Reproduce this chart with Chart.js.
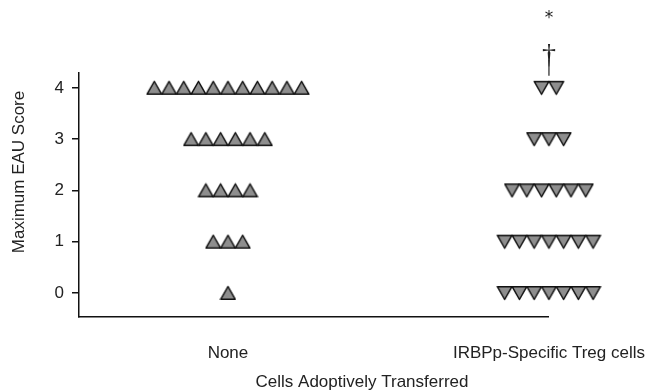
<!DOCTYPE html>
<html>
<head>
<meta charset="utf-8">
<script src="https://cdn.jsdelivr.net/npm/chart.js@4.4.1/dist/chart.umd.min.js"></script>
<style>
  html, body { margin: 0; padding: 0; background: #fff; }
  #cadre { width: 652px; height: 392px; }
</style>
</head>
<body>
<div id="cadre"><canvas id="graphEAU"></canvas></div>
<script>
const categories = ['None', 'IRBPp-Specific Treg cells'];
const scores = [0, 1, 2, 3, 4];
const noneCounts = [1, 3, 4, 6, 11];
const tregCounts = [7, 7, 6, 3, 2];
const yTicks = [0, 1, 2, 3, 4];
const marques = ['*', '\u2020'];
const titreX = 'Cells Adoptively Transferred';
const titreY = 'Maximum EAU Score';

const POLICE = '"Liberation Sans", Arial, Helvetica, sans-serif';
const TEXTE = '#222';
const PAS = 0.0459; // largeur d'un triangle en unités de l'axe x

// triangle gris à bord noir, centré dans son canvas
function dessinTriangle() {
    const c = document.createElement('canvas');
    c.width = 17; c.height = 16;
    const g = c.getContext('2d');
    g.beginPath();
    g.moveTo(8.5, 1.5);
    g.lineTo(15.8, 14.3);
    g.lineTo(1.2, 14.3);
    g.closePath();
    g.fillStyle = '#8e8e8e';
    g.fill();
    g.lineWidth = 1.5;
    g.lineJoin = 'round';
    g.strokeStyle = '#111';
    g.stroke();
    return c;
}

function rangees(cat, counts) {
    const pts = [];
    counts.forEach((n, k) => {
        for (let i = 0; i < n; i++) {
            pts.push({ x: cat + (i - (n - 1) / 2) * PAS, y: scores[k] });
        }
    });
    return pts;
}

const tri = dessinTriangle();

// titres des axes et signes au-dessus de la colonne Treg
const extras = {
    id: 'extras',
    afterDraw(chart) {
        const ctx = chart.ctx;
        const sx = chart.scales.x, sy = chart.scales.y;
        ctx.save();
        ctx.fillStyle = TEXTE;
        ctx.strokeStyle = TEXTE;
        ctx.textAlign = 'center';
        ctx.textBaseline = 'middle';
        ctx.font = '17px ' + POLICE;

        ctx.fillText(titreX, 362, 382);

        ctx.save();
        ctx.translate(19, 172);
        ctx.rotate(-Math.PI / 2);
        ctx.fillText(titreY, 0, 0);
        ctx.restore();

        const x = sx.getPixelForValue(2);
        const haut = sy.getPixelForValue(4);
        ctx.textBaseline = 'alphabetic';
        ctx.font = '17px "DejaVu Sans", sans-serif';
        ctx.fillText(marques[0], x, haut - 65);
        ctx.font = '28px "Liberation Serif", serif';
        ctx.fillText(marques[1], x, haut - 25);
        ctx.lineWidth = 1.2;
        ctx.beginPath();
        ctx.moveTo(x, haut - 28);
        ctx.lineTo(x, haut - 12);
        ctx.stroke();
        ctx.restore();
    }
};

new Chart(document.getElementById('graphEAU').getContext('2d'), {
    type: 'scatter',
    data: {
        datasets: [{
            label: categories[0],
            data: rangees(1, noneCounts),
            pointStyle: tri,
            rotation: 0,
            clip: false
        }, {
            label: categories[1],
            data: rangees(2, tregCounts),
            pointStyle: tri,
            rotation: 180,
            clip: false
        }]
    },
    options: {
        responsive: true,
        maintainAspectRatio: false,
        animation: false,
        events: [],
        // grand rayon : les triangles hors de la zone du graphique restent dessinés
        elements: { point: { radius: 70, hoverRadius: 70, borderWidth: 0 } },
        layout: { padding: { top: 73, right: 90, left: 0, bottom: 0 } },
        plugins: { legend: { display: false }, tooltip: { enabled: false } },
        scales: {
            x: {
                type: 'linear',
                min: 0.536,
                max: 2,
                afterBuildTicks: s => { s.ticks = [{ value: 1 }, { value: 2 }]; },
                afterFit: s => { s.height = 75; },
                grid: { display: false, drawTicks: true, tickLength: 19 },
                border: { display: true, color: '#111', width: 1.5 },
                ticks: {
                    callback: v => categories[v - 1],
                    autoSkip: false,
                    maxRotation: 0,
                    padding: 7,
                    color: TEXTE,
                    font: { family: POLICE, size: 17 }
                }
            },
            y: {
                min: -0.468,
                max: 4.29,
                afterBuildTicks: s => { s.ticks = yTicks.map(v => ({ value: v })); },
                afterFit: s => { s.width = 79; },
                grid: { display: true, drawOnChartArea: false, drawTicks: true, tickLength: 7, color: '#111', lineWidth: 1.5 },
                border: { display: true, color: '#111', width: 1.5 },
                ticks: {
                    padding: 8,
                    color: TEXTE,
                    font: { family: POLICE, size: 17 }
                }
            }
        }
    },
    plugins: [extras]
});
</script>
</body>
</html>
